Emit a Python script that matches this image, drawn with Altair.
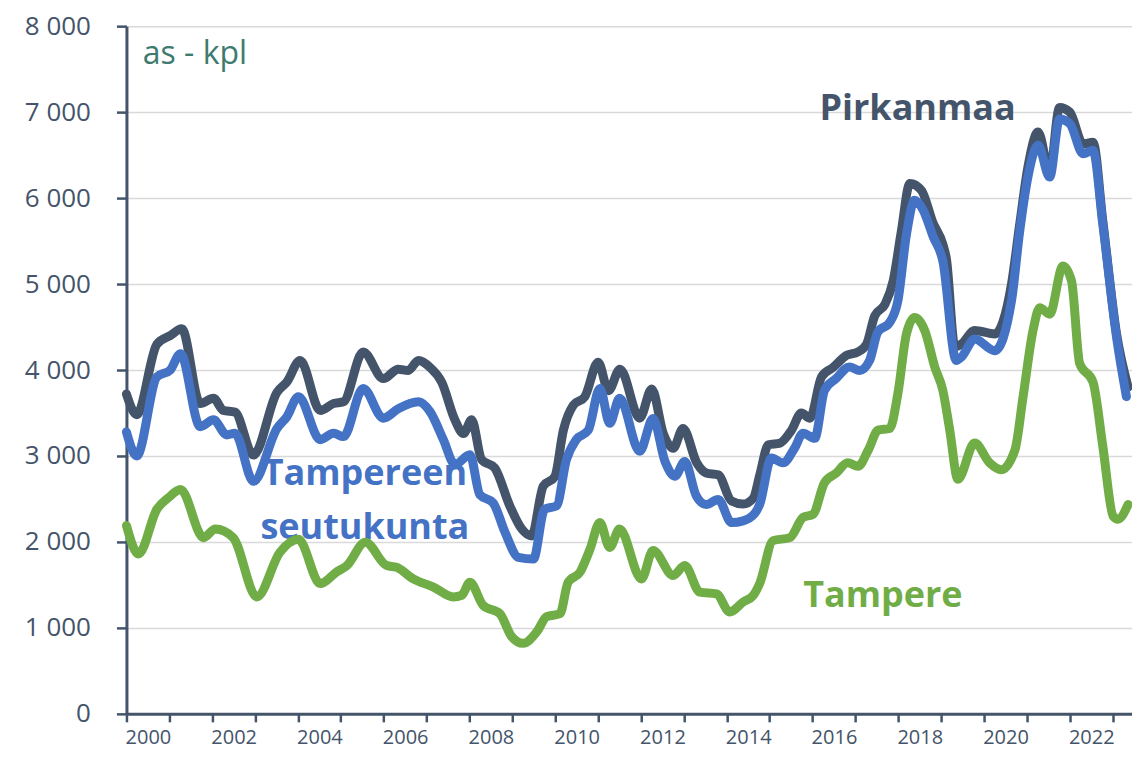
import altair as alt
import pandas as pd

# ---- data ----
pirkanmaa_t = [2000.00, 2000.24, 2000.71, 2001.02, 2001.29, 2001.72, 2002.03, 2002.26, 2002.53, 2002.96,
               2003.51, 2003.74, 2004.05, 2004.52, 2004.83, 2005.06, 2005.52, 2005.99, 2006.34, 2006.57,
               2006.81, 2007.08, 2007.35, 2007.66, 2007.86, 2008.05, 2008.28, 2008.59, 2008.94, 2009.22,
               2009.45, 2009.72, 2009.99, 2010.19, 2010.42, 2010.69, 2011.00, 2011.24, 2011.51, 2011.97,
               2012.25, 2012.52, 2012.75, 2012.98, 2013.30, 2013.53, 2013.80, 2014.11, 2014.38, 2014.62,
               2014.77, 2014.97, 2015.24, 2015.51, 2015.74, 2015.94, 2016.21, 2016.48, 2016.79, 2017.06,
               2017.26, 2017.45, 2017.69, 2017.88, 2018.07, 2018.27, 2018.54, 2018.81, 2019.04, 2019.12,
               2019.32, 2019.47, 2019.78, 2020.25, 2020.64, 2020.83, 2021.03, 2021.26, 2021.53, 2021.76,
               2022.00, 2022.31, 2022.54, 2022.77, 2023.09, 2023.36]
pirkanmaa_v = [3720, 3480, 4300, 4400, 4480, 3610, 3670, 3530, 3510, 3010,
               3740, 3860, 4110, 3530, 3610, 3630, 4210, 3900, 4010, 3995,
               4110, 4030, 3860, 3420, 3260, 3420, 2960, 2860, 2420, 2150,
               2070, 2650, 2760, 3300, 3590, 3690, 4090, 3760, 4010, 3440,
               3780, 3260, 3090, 3320, 2920, 2800, 2780, 2475, 2440, 2510,
               2780, 3130, 3150, 3300, 3500, 3440, 3920, 4030, 4170, 4210,
               4300, 4630, 4765, 5035, 5610, 6170, 6090, 5710, 5460, 5300,
               4270, 4300, 4460, 4420, 5000, 5690, 6380, 6770, 6300, 7055,
               7000, 6630, 6650, 5730, 4420, 3800]

seutukunta_t = [2000.00, 2000.24, 2000.71, 2001.02, 2001.26, 2001.72, 2002.03, 2002.34, 2002.53, 2002.96,
                2003.51, 2003.74, 2004.01, 2004.52, 2004.83, 2005.06, 2005.52, 2005.99, 2006.34, 2006.81,
                2007.08, 2007.39, 2007.66, 2008.01, 2008.24, 2008.55, 2008.83, 2009.14, 2009.49, 2009.75,
                2010.03, 2010.26, 2010.49, 2010.77, 2011.04, 2011.27, 2011.50, 2011.97, 2012.28, 2012.56,
                2012.79, 2013.02, 2013.29, 2013.52, 2013.80, 2014.11, 2014.38, 2014.65, 2014.77, 2015.04,
                2015.31, 2015.58, 2015.78, 2016.05, 2016.28, 2016.55, 2016.86, 2017.10, 2017.33, 2017.52,
                2017.80, 2017.99, 2018.19, 2018.38, 2018.58, 2018.81, 2019.04, 2019.35, 2019.47, 2019.78,
                2020.25, 2020.64, 2020.83, 2021.03, 2021.26, 2021.53, 2021.76, 2022.00, 2022.31, 2022.54,
                2022.77, 2023.09, 2023.32]
seutukunta_v = [3280, 3000, 3920, 4000, 4190, 3340, 3420, 3245, 3265, 2705,
                3320, 3455, 3690, 3190, 3265, 3225, 3785, 3440, 3550, 3630,
                3515, 3190, 2900, 3015, 2550, 2455, 2110, 1820, 1800, 2380,
                2420, 2955, 3190, 3300, 3785, 3380, 3670, 3055, 3435, 2935,
                2765, 2935, 2535, 2435, 2495, 2225, 2245, 2330, 2440, 2975,
                2920, 3090, 3265, 3205, 3765, 3900, 4035, 3995, 4110, 4440,
                4555, 4805, 5575, 5975, 5860, 5555, 5265, 4110, 4150, 4360,
                4225, 4805, 5610, 6265, 6615, 6245, 6920, 6865, 6515, 6555,
                5690, 4380, 3690]

tampere_t = [2000.00, 2000.28, 2000.71, 2000.98, 2001.26, 2001.80, 2002.07, 2002.49, 2003.04, 2003.58,
             2004.01, 2004.52, 2004.90, 2005.14, 2005.57, 2006.07, 2006.30, 2006.69, 2007.16, 2007.62,
             2007.82, 2008.01, 2008.32, 2008.71, 2008.98, 2009.25, 2009.57, 2009.80, 2010.11, 2010.30,
             2010.58, 2010.81, 2011.04, 2011.27, 2011.50, 2012.01, 2012.28, 2012.75, 2013.02, 2013.37,
             2013.76, 2014.07, 2014.38, 2014.62, 2014.77, 2015.08, 2015.47, 2015.78, 2016.01, 2016.28,
             2016.55, 2016.82, 2017.06, 2017.30, 2017.53, 2017.80, 2017.99, 2018.19, 2018.38, 2018.62,
             2018.85, 2019.04, 2019.20, 2019.39, 2019.78, 2020.13, 2020.40, 2020.72, 2020.91, 2021.14,
             2021.30, 2021.53, 2021.84, 2022.04, 2022.23, 2022.54, 2022.77, 2023.01, 2023.12, 2023.36]
tampere_v = [2190, 1860, 2380, 2515, 2610, 2050, 2150, 2050, 1360, 1880,
             2030, 1515, 1650, 1725, 1995, 1725, 1705, 1570, 1475, 1360,
             1380, 1530, 1260, 1165, 900, 820, 955, 1130, 1165, 1530,
             1650, 1915, 2225, 1935, 2150, 1570, 1900, 1610, 1725, 1415,
             1395, 1185, 1300, 1380, 1520, 2015, 2050, 2285, 2320, 2690,
             2800, 2920, 2880, 3070, 3300, 3320, 3725, 4420, 4610, 4455,
             4035, 3760, 3300, 2730, 3150, 2920, 2840, 3070, 3690, 4455,
             4725, 4650, 5210, 5035, 4075, 3860, 3110, 2300, 2265, 2435]

year_ticks = list(range(2000, 2024))
value_ticks = list(range(0, 8001, 1000))

# annotation anchors (data units)
label_texts = ["Pirkanmaa", "Tampereen", "seutukunta", "Tampere"]
label_t = [2018.45, 2005.56, 2005.56, 2017.64]
label_v = [6905, 2667, 2032, 1247]
unit_text = ["as - kpl"]
unit_t = [2000.38]
unit_v = [7564]

# ---- styling ----
C_DARK = "#44546A"
C_BLUE = "#4472C4"
C_GREEN = "#70AD47"
C_AXIS = "#44546A"
FONT = "Open Sans"

W, H = 1006, 688
X_MIN, X_MAX = 2000.0, 2023.45
half_year_px = W / (X_MAX - X_MIN) / 2

x_enc = alt.X(
    "t:Q",
    scale=alt.Scale(domain=[X_MIN, X_MAX], nice=False, zero=False),
    axis=alt.Axis(
        values=year_ticks,
        labelExpr="datum.value % 2 == 0 ? '' + datum.value : ''",
        labelOffset=half_year_px,
        labelOverlap=False, labelFlush=False, labelBound=False,
        grid=False, title=None,
        tickSize=8, tickWidth=2.5, tickColor=C_AXIS,
        domainColor=C_AXIS, domainWidth=3,
        labelFont=FONT, labelFontSize=20, labelColor=C_AXIS, labelPadding=6,
    ),
)
y_enc = alt.Y(
    "v:Q",
    scale=alt.Scale(domain=[0, 8000], nice=False),
    axis=alt.Axis(
        values=value_ticks,
        labelExpr="replace(format(datum.value, ','), ',', ' ')",
        grid=True, gridColor="#D9D9D9", gridWidth=1.5,
        title=None,
        tickSize=10, tickWidth=2.5, tickColor=C_AXIS,
        domainColor=C_AXIS, domainWidth=3,
        labelFont=FONT, labelFontSize=26, labelColor=C_AXIS, labelPadding=26,
        labelOverlap=False,
    ),
)

df_p = pd.DataFrame({"t": pirkanmaa_t, "v": pirkanmaa_v})
df_s = pd.DataFrame({"t": seutukunta_t, "v": seutukunta_v})
df_tm = pd.DataFrame({"t": tampere_t, "v": tampere_v})
df_lab = pd.DataFrame({"t": label_t, "v": label_v, "label": label_texts})
df_unit = pd.DataFrame({"t": unit_t, "v": unit_v, "label": unit_text})

def line(df, color):
    return alt.Chart(df).mark_line(
        color=color, strokeWidth=9, strokeCap="round", strokeJoin="round",
        interpolate="monotone"
    ).encode(x=x_enc, y=y_enc)

def text_layer(label, color):
    return alt.Chart(df_lab[df_lab["label"] == label]).mark_text(
        font=FONT, fontWeight="bold", fontSize=36, color=color,
        align="center", baseline="alphabetic"
    ).encode(x=x_enc, y=y_enc, text="label:N")

unit_layer = alt.Chart(df_unit).mark_text(
    font=FONT, fontSize=32, color="#3E7B6F", align="left", baseline="alphabetic"
).encode(x=x_enc, y=y_enc, text="label:N")

chart = alt.layer(
    unit_layer,
    text_layer("Tampereen", C_BLUE),
    text_layer("seutukunta", C_BLUE),
    text_layer("Pirkanmaa", C_DARK),
    text_layer("Tampere", C_GREEN),
    line(df_p, C_DARK),
    line(df_s, C_BLUE),
    line(df_tm, C_GREEN),
).properties(
    width=W, height=H,
    autosize=alt.AutoSizeParams(type="none"),
    padding={"left": 118.5, "top": 18, "right": 0, "bottom": 39},
    background="white",
).configure_view(stroke=None)

chart.save("out.html", embed_options={"renderer": "svg", "actions": False})
